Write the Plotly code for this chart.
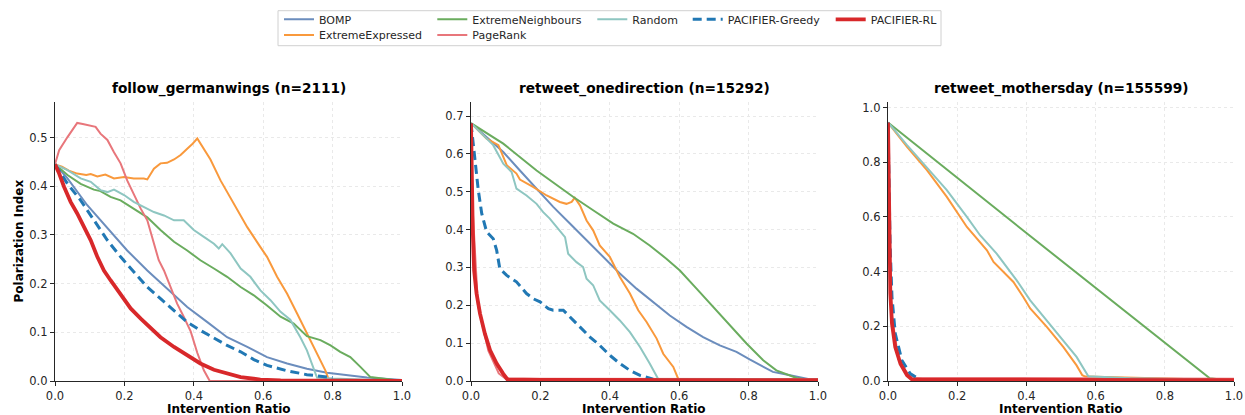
import plotly.graph_objects as go

# ---------------- data ----------------
methods = ["BOMP", "ExtremeExpressed", "ExtremeNeighbours", "PageRank", "Random",
           "PACIFIER-Greedy", "PACIFIER-RL"]
panel_titles = ["follow_germanwings (n=2111)", "retweet_onedirection (n=15292)",
                "retweet_mothersday (n=155599)"]
x_ticks = [0.0, 0.2, 0.4, 0.6, 0.8, 1.0]

# follow_germanwings
gw_bomp_x = [0, 0.036, 0.093, 0.151, 0.208, 0.266, 0.323, 0.381, 0.439, 0.496, 0.554, 0.611, 0.669, 0.726, 0.784, 0.842, 0.899, 1.0]
gw_bomp_y = [0.445, 0.416, 0.361, 0.313, 0.268, 0.227, 0.190, 0.152, 0.121, 0.090, 0.070, 0.049, 0.036, 0.025, 0.017, 0.012, 0.007, 0.002]
gw_ee_x = [0, 0.02, 0.04, 0.064, 0.09, 0.103, 0.122, 0.145, 0.17, 0.199, 0.227, 0.256, 0.266, 0.285, 0.304, 0.323, 0.343, 0.362, 0.381, 0.395, 0.410, 0.419, 0.448, 0.477, 0.515, 0.554, 0.592, 0.611, 0.640, 0.669, 0.698, 0.726, 0.755, 0.779, 0.789, 0.80, 1.0]
gw_ee_y = [0.445, 0.44, 0.432, 0.426, 0.423, 0.425, 0.42, 0.424, 0.416, 0.419, 0.416, 0.416, 0.414, 0.436, 0.447, 0.448, 0.455, 0.464, 0.477, 0.486, 0.498, 0.488, 0.455, 0.412, 0.364, 0.316, 0.275, 0.255, 0.214, 0.179, 0.138, 0.097, 0.056, 0.022, 0.003, 0.001, 0.0]
gw_en_x = [0, 0.036, 0.074, 0.112, 0.131, 0.160, 0.189, 0.227, 0.266, 0.304, 0.343, 0.381, 0.419, 0.458, 0.496, 0.535, 0.573, 0.611, 0.650, 0.688, 0.726, 0.765, 0.794, 0.822, 0.851, 0.880, 0.909, 1.0]
gw_en_y = [0.445, 0.423, 0.405, 0.393, 0.390, 0.378, 0.371, 0.354, 0.336, 0.310, 0.286, 0.268, 0.248, 0.231, 0.214, 0.193, 0.176, 0.155, 0.132, 0.118, 0.092, 0.084, 0.073, 0.060, 0.049, 0.029, 0.008, 0.0]
gw_pr_x = [0, 0.012, 0.036, 0.064, 0.08, 0.103, 0.117, 0.131, 0.151, 0.170, 0.189, 0.208, 0.227, 0.247, 0.266, 0.285, 0.299, 0.314, 0.333, 0.352, 0.371, 0.391, 0.410, 0.429, 0.446, 1.0]
gw_pr_y = [0.445, 0.474, 0.501, 0.530, 0.528, 0.524, 0.522, 0.508, 0.495, 0.470, 0.447, 0.412, 0.382, 0.354, 0.330, 0.282, 0.248, 0.227, 0.193, 0.159, 0.132, 0.102, 0.058, 0.022, 0.0, 0.0]
gw_rand_x = [0, 0.036, 0.074, 0.103, 0.131, 0.151, 0.170, 0.199, 0.227, 0.256, 0.285, 0.314, 0.343, 0.371, 0.400, 0.429, 0.458, 0.472, 0.482, 0.506, 0.535, 0.563, 0.592, 0.621, 0.650, 0.678, 0.707, 0.726, 0.746, 0.755, 0.80, 1.0]
gw_rand_y = [0.445, 0.433, 0.416, 0.409, 0.392, 0.388, 0.393, 0.382, 0.368, 0.358, 0.347, 0.340, 0.330, 0.330, 0.310, 0.296, 0.282, 0.272, 0.281, 0.262, 0.231, 0.214, 0.186, 0.166, 0.142, 0.126, 0.090, 0.063, 0.022, 0.007, 0.005, 0.0]
gw_greedy_x = [0, 0.036, 0.074, 0.112, 0.151, 0.189, 0.227, 0.266, 0.304, 0.343, 0.381, 0.419, 0.458, 0.496, 0.535, 0.573, 0.611, 0.669, 0.726, 0.784, 0.80]
gw_greedy_y = [0.445, 0.405, 0.371, 0.330, 0.289, 0.255, 0.224, 0.193, 0.169, 0.145, 0.121, 0.104, 0.089, 0.073, 0.060, 0.044, 0.032, 0.021, 0.013, 0.008, 0.007]
gw_rl_x = [0, 0.012, 0.026, 0.045, 0.064, 0.083, 0.103, 0.122, 0.141, 0.160, 0.189, 0.218, 0.247, 0.275, 0.304, 0.343, 0.381, 0.419, 0.458, 0.496, 0.535, 0.592, 0.65, 1.0]
gw_rl_y = [0.445, 0.426, 0.399, 0.368, 0.344, 0.316, 0.289, 0.255, 0.227, 0.207, 0.179, 0.149, 0.128, 0.108, 0.090, 0.070, 0.053, 0.036, 0.023, 0.015, 0.008, 0.003, 0.001, 0.0]

# retweet_onedirection
od_bomp_x = [0, 0.093, 0.141, 0.189, 0.237, 0.285, 0.333, 0.381, 0.429, 0.477, 0.525, 0.573, 0.621, 0.669, 0.717, 0.765, 0.803, 0.842, 0.870, 0.909, 0.957, 1.0]
od_bomp_y = [0.681, 0.605, 0.556, 0.508, 0.460, 0.416, 0.372, 0.328, 0.284, 0.244, 0.209, 0.173, 0.143, 0.116, 0.094, 0.077, 0.057, 0.037, 0.024, 0.017, 0.008, 0.0]
od_ee_x = [0, 0.045, 0.079, 0.103, 0.131, 0.141, 0.180, 0.218, 0.256, 0.275, 0.290, 0.299, 0.314, 0.333, 0.352, 0.371, 0.400, 0.429, 0.458, 0.482, 0.506, 0.535, 0.554, 0.583, 0.597, 0.62, 1.0]
od_ee_y = [0.681, 0.640, 0.623, 0.570, 0.548, 0.532, 0.512, 0.490, 0.473, 0.468, 0.473, 0.484, 0.464, 0.424, 0.398, 0.358, 0.328, 0.275, 0.231, 0.187, 0.156, 0.112, 0.072, 0.037, 0.006, 0.005, 0.004]
od_en_x = [0, 0.093, 0.189, 0.247, 0.295, 0.352, 0.410, 0.467, 0.515, 0.563, 0.602, 0.650, 0.698, 0.746, 0.794, 0.842, 0.880, 0.938, 1.0]
od_en_y = [0.681, 0.627, 0.556, 0.517, 0.486, 0.451, 0.416, 0.389, 0.358, 0.323, 0.292, 0.244, 0.195, 0.147, 0.099, 0.055, 0.028, 0.008, 0.0]
od_pr_x = [0, 0.005, 0.02, 0.05, 0.08, 0.1, 1.0]
od_pr_y = [0.681, 0.45, 0.2, 0.08, 0.02, 0.006, 0.005]
od_rand_x = [0, 0.064, 0.093, 0.117, 0.131, 0.160, 0.189, 0.208, 0.227, 0.247, 0.271, 0.280, 0.304, 0.323, 0.333, 0.352, 0.371, 0.400, 0.429, 0.458, 0.487, 0.515, 0.539, 0.6, 1.0]
od_rand_y = [0.681, 0.623, 0.574, 0.552, 0.508, 0.490, 0.468, 0.446, 0.429, 0.407, 0.380, 0.336, 0.314, 0.301, 0.270, 0.253, 0.213, 0.187, 0.160, 0.129, 0.090, 0.046, 0.006, 0.005, 0.004]
od_greedy_x = [0, 0.007, 0.012, 0.021, 0.031, 0.045, 0.064, 0.074, 0.083, 0.103, 0.131, 0.160, 0.180, 0.199, 0.223, 0.237, 0.266, 0.285, 0.314, 0.343, 0.371, 0.400, 0.429, 0.458, 0.487, 0.515, 0.525]
od_greedy_y = [0.681, 0.618, 0.583, 0.504, 0.442, 0.394, 0.376, 0.345, 0.297, 0.279, 0.262, 0.231, 0.217, 0.209, 0.191, 0.187, 0.187, 0.169, 0.143, 0.116, 0.094, 0.068, 0.046, 0.028, 0.015, 0.008, 0.005]
od_rl_x = [0, 0.002, 0.005, 0.009, 0.016, 0.026, 0.040, 0.055, 0.074, 0.093, 0.105, 0.2, 1.0]
od_rl_y = [0.681, 0.53, 0.40, 0.292, 0.231, 0.178, 0.125, 0.081, 0.046, 0.019, 0.004, 0.003, 0.002]

# retweet_mothersday
md_ee_x = [0, 0.055, 0.1125, 0.170, 0.228, 0.286, 0.305, 0.3625, 0.391, 0.411, 0.459, 0.507, 0.545, 0.5615, 0.57, 0.8, 1.0]
md_ee_y = [0.945, 0.856, 0.771, 0.673, 0.563, 0.478, 0.435, 0.362, 0.307, 0.265, 0.198, 0.124, 0.057, 0.021, 0.016, 0.010, 0.003]
md_en_x = [0, 0.40, 0.93, 1.0]
md_en_y = [0.945, 0.541, 0.010, 0.0]
md_pr_x = [0, 0.004, 0.01, 0.03, 0.06, 0.08, 1.0]
md_pr_y = [0.945, 0.55, 0.25, 0.08, 0.02, 0.012, 0.008]
md_rand_x = [0, 0.055, 0.1125, 0.170, 0.228, 0.266, 0.314, 0.372, 0.411, 0.459, 0.507, 0.545, 0.579, 0.7, 1.0]
md_rand_y = [0.945, 0.862, 0.780, 0.698, 0.600, 0.533, 0.466, 0.368, 0.295, 0.222, 0.149, 0.088, 0.017, 0.010, 0.003]
md_greedy_x = [0, 0.006, 0.0115, 0.021, 0.040, 0.064, 0.088]
md_greedy_y = [0.945, 0.50, 0.307, 0.173, 0.076, 0.027, 0.009]
md_rl_x = [0, 0.003, 0.0067, 0.0115, 0.021, 0.036, 0.055, 0.069, 0.1, 1.0]
md_rl_y = [0.945, 0.61, 0.32, 0.21, 0.124, 0.063, 0.021, 0.006, 0.004, 0.003]

panels = [
    {"BOMP": (gw_bomp_x, gw_bomp_y), "ExtremeExpressed": (gw_ee_x, gw_ee_y),
     "ExtremeNeighbours": (gw_en_x, gw_en_y), "PageRank": (gw_pr_x, gw_pr_y),
     "Random": (gw_rand_x, gw_rand_y), "PACIFIER-Greedy": (gw_greedy_x, gw_greedy_y),
     "PACIFIER-RL": (gw_rl_x, gw_rl_y)},
    {"BOMP": (od_bomp_x, od_bomp_y), "ExtremeExpressed": (od_ee_x, od_ee_y),
     "ExtremeNeighbours": (od_en_x, od_en_y), "PageRank": (od_pr_x, od_pr_y),
     "Random": (od_rand_x, od_rand_y), "PACIFIER-Greedy": (od_greedy_x, od_greedy_y),
     "PACIFIER-RL": (od_rl_x, od_rl_y)},
    {"ExtremeExpressed": (md_ee_x, md_ee_y),
     "ExtremeNeighbours": (md_en_x, md_en_y), "PageRank": (md_pr_x, md_pr_y),
     "Random": (md_rand_x, md_rand_y), "PACIFIER-Greedy": (md_greedy_x, md_greedy_y),
     "PACIFIER-RL": (md_rl_x, md_rl_y)},
]

# ---------------- styles ----------------
styles = {
    "BOMP": dict(color="#6b8dbd", width=2.0, dash="solid"),
    "ExtremeExpressed": dict(color="#f9993c", width=2.0, dash="solid"),
    "ExtremeNeighbours": dict(color="#6aac5e", width=2.0, dash="solid"),
    "PageRank": dict(color="#e8767b", width=2.0, dash="solid"),
    "Random": dict(color="#8ec6c1", width=2.0, dash="solid"),
    "PACIFIER-Greedy": dict(color="#2178b4", width=3.0, dash="9px,5px"),
    "PACIFIER-RL": dict(color="#d8282a", width=3.8, dash="solid"),
}

W, H = 1245, 415
x_domains_px = [(55, 402), (471, 818), (888, 1234)]
y_top_px, y_bot_px = 102, 381
y_ranges = [[0, 0.573], [0, 0.737], [0, 1.02]]
y_dticks = [0.1, 0.1, 0.2]

FONT = "DejaVu Sans"
TXT = "#262626"
GRID = "#e9e9e9"

# legend layout: (text-left px, row-center px)
legend_pos = {
    "BOMP": (319, 19.3), "ExtremeExpressed": (319, 35.0),
    "ExtremeNeighbours": (472.3, 19.3), "PageRank": (472.3, 35.0),
    "Random": (632.3, 19.3), "PACIFIER-Greedy": (727.7, 19.3), "PACIFIER-RL": (870.7, 19.3),
}
legend_ids = {m: ("legend" if i == 0 else f"legend{i+1}") for i, m in enumerate(methods)}

fig = go.Figure()
shown = set()
for p, data in enumerate(panels):
    xa = "x" if p == 0 else f"x{p+1}"
    ya = "y" if p == 0 else f"y{p+1}"
    for m in methods:
        if m not in data:
            continue
        xs, ys = data[m]
        st = styles[m]
        fig.add_trace(go.Scatter(
            x=xs, y=ys, mode="lines", name=m, xaxis=xa, yaxis=ya,
            line=dict(color=st["color"], width=st["width"], dash=st["dash"]),
            legend=legend_ids[m], showlegend=(m not in shown),
        ))
        shown.add(m)

layout = dict(
    width=W, height=H, margin=dict(l=0, r=0, t=0, b=0, autoexpand=False),
    paper_bgcolor="white", plot_bgcolor="white",
    font=dict(family=FONT, size=11.5, color=TXT),
    annotations=[], shapes=[],
)

for p in range(3):
    xk = "xaxis" if p == 0 else f"xaxis{p+1}"
    yk = "yaxis" if p == 0 else f"yaxis{p+1}"
    ya = "y" if p == 0 else f"y{p+1}"
    xa = "x" if p == 0 else f"x{p+1}"
    x0, x1 = x_domains_px[p]
    layout[xk] = dict(
        domain=[x0 / W, x1 / W], anchor=ya, range=[0, 1], tickvals=x_ticks,
        tickformat=".1f", showline=True, linecolor=TXT, linewidth=1.2,
        ticks="outside", ticklen=4, tickwidth=1, tickcolor=TXT, automargin=False,
        showgrid=True, gridcolor=GRID, gridwidth=0.8, griddash="3px,3px",
        zeroline=False, tickfont=dict(family=FONT, size=11.5, color=TXT),
    )
    layout[yk] = dict(
        domain=[1 - y_bot_px / H, 1 - y_top_px / H], anchor=xa, range=y_ranges[p],
        dtick=y_dticks[p], tick0=0, tickformat=".1f", showline=True, linecolor=TXT,
        linewidth=1.2, ticks="outside", ticklen=4, tickwidth=1, tickcolor=TXT,
        automargin=False,
        showgrid=True, gridcolor=GRID, gridwidth=0.8, griddash="3px,3px",
        zeroline=False, tickfont=dict(family=FONT, size=11.5, color=TXT),
    )
    cx = (x0 + x1) / 2 / W
    layout["annotations"].append(dict(
        text=panel_titles[p], x=cx, y=1 - 88 / H, xref="paper", yref="paper",
        xanchor="center", yanchor="middle", showarrow=False,
        font=dict(family=FONT, size=13.7, color="black", weight="bold")))
    layout["annotations"].append(dict(
        text="Intervention Ratio", x=cx, y=1 - 409 / H, xref="paper", yref="paper",
        xanchor="center", yanchor="middle", showarrow=False,
        font=dict(family=FONT, size=12, color="black", weight="bold")))

layout["annotations"].append(dict(
    text="Polarization Index", x=18 / W, y=1 - (y_top_px + y_bot_px) / 2 / H,
    xref="paper", yref="paper", xanchor="center", yanchor="middle", textangle=-90,
    showarrow=False, font=dict(family=FONT, size=12, color="black", weight="bold")))

# legends (one per entry, placed in matplotlib-style column-major grid)
for m in methods:
    tx, ty = legend_pos[m]
    layout[legend_ids[m]] = dict(
        x=(tx - 40) / W, y=1 - ty / H, xanchor="left", yanchor="middle",
        xref="paper", yref="paper", orientation="v", bgcolor="rgba(0,0,0,0)",
        borderwidth=0, font=dict(family=FONT, size=11, color=TXT),
        itemwidth=30, itemclick=False, itemdoubleclick=False,
    )

layout["shapes"].append(dict(
    type="rect", xref="paper", yref="paper", x0=278 / W, x1=941 / W,
    y0=1 - 45.7 / H, y1=1 - 10.7 / H, line=dict(color="#d0d0d0", width=1),
    fillcolor="rgba(255,255,255,0)", layer="below"))

fig.update_layout(**layout)
fig.write_html("out.html")
